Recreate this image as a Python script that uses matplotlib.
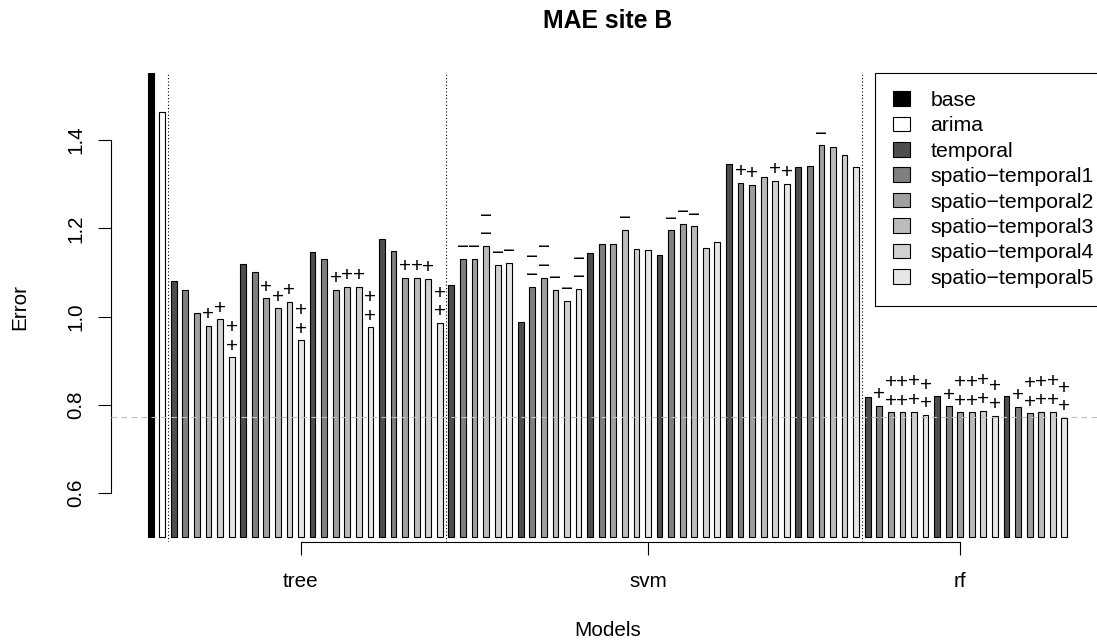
import matplotlib
matplotlib.use('Agg')
import matplotlib.pyplot as plt
from matplotlib.patches import Patch

plt.rcParams['font.family'] = ['Liberation Sans', 'DejaVu Sans']

MINUS = '\u2212'

# ---------------------------------------------------------------------------
# Données
# ---------------------------------------------------------------------------

series = ['base', 'arima', 'temporal',
          'spatio' + MINUS + 'temporal1', 'spatio' + MINUS + 'temporal2',
          'spatio' + MINUS + 'temporal3', 'spatio' + MINUS + 'temporal4',
          'spatio' + MINUS + 'temporal5']
colours = ['#000000', '#FFFFFF', '#4D4D4D', '#7F7F7F',
           '#A0A0A0', '#BBBBBB', '#D1D1D1', '#E6E6E6']

models = ['tree', 'svm', 'rf']

base_err = 1.60
arima_err = 1.464
ref_line = 0.772

tree_err = [
    [1.081, 1.061, 1.009, 0.979, 0.994, 0.908],
    [1.120, 1.101, 1.041, 1.019, 1.034, 0.946],
    [1.146, 1.131, 1.061, 1.067, 1.067, 0.976],
    [1.176, 1.148, 1.088, 1.088, 1.085, 0.986],
]
svm_err = [
    [1.071, 1.130, 1.131, 1.160, 1.117, 1.121],
    [0.988, 1.067, 1.088, 1.060, 1.035, 1.063],
    [1.143, 1.164, 1.164, 1.197, 1.152, 1.150],
    [1.140, 1.195, 1.210, 1.204, 1.155, 1.170],
    [1.345, 1.303, 1.299, 1.315, 1.307, 1.300],
    [1.338, 1.340, 1.388, 1.384, 1.365, 1.339],
]
rf_err = [
    [0.818, 0.798, 0.783, 0.783, 0.785, 0.777],
    [0.820, 0.797, 0.783, 0.783, 0.787, 0.775],
    [0.820, 0.795, 0.781, 0.784, 0.785, 0.771],
]

# marques de significativité ('+' meilleur, '-' moins bon)
tree_sig = [
    ['', '', '', '+', '+', '++'],
    ['', '', '+', '+', '+', '++'],
    ['', '', '+', '+', '+', '++'],
    ['', '', '+', '+', '+', '++'],
]
svm_sig = [
    ['', '-', '-', '--', '-', '-'],
    ['', '--', '--', '-', '-', '--'],
    ['', '', '', '-', '', ''],
    ['', '-', '-', '-', '', ''],
    ['', '+', '+', '', '+', '+'],
    ['', '', '-', '', '', ''],
]
rf_sig = [
    ['', '+', '++', '++', '++', '++'],
    ['', '+', '++', '++', '++', '++'],
    ['', '+', '++', '++', '++', '++'],
]

# ---------------------------------------------------------------------------
# Figure
# ---------------------------------------------------------------------------

W, H = 1097, 642
fig = plt.figure(figsize=(W / 100, H / 100), dpi=100)
ax = fig.add_axes([111 / W, (H - 541.7) / H, 993 / W, 468.7 / H])

FS = 14.9
BOTTOM = 0.5
WIDTH = 0.5

heights, fills, marks = [base_err, arima_err], colours[:2], ['', '']
group_ranges = []
for groups, sigs in [(tree_err, tree_sig), (svm_err, svm_sig), (rf_err, rf_sig)]:
    start = len(heights)
    for vals, sg in zip(groups, sigs):
        heights += vals
        fills += colours[2:]
        marks += sg
    group_ranges.append((start, len(heights) - 1))

xs = list(range(len(heights)))
ax.bar(xs, [h - BOTTOM for h in heights], bottom=BOTTOM, width=WIDTH,
       color=fills, edgecolor='black', linewidth=0.8, zorder=2)

# symboles empilés au-dessus des barres
for x, h, m in zip(xs, heights, marks):
    if not m:
        continue
    label = '\n'.join('+' if ch == '+' else MINUS for ch in m)
    ax.annotate(label, xy=(x, h), xytext=(0, 1.7),
                textcoords='offset pixels', ha='center', va='bottom',
                fontsize=FS, linespacing=0.97, color='black',
                annotation_clip=False)

# séparateurs entre modèles
for a, b in group_ranges:
    ax.axvline(a - 0.5, color='black', linestyle=(0, (1, 2)), linewidth=0.8,
               zorder=1)
ax.axhline(ref_line, color='#BEBEBE', linestyle=(0, (5, 4)), linewidth=0.8,
           zorder=3)

ax.set_xlim(-3.43, 82.43)
ax.set_ylim(0.4904, 1.5515)

for s in ['top', 'right']:
    ax.spines[s].set_visible(False)
ax.spines['left'].set_bounds(0.6, 1.4)
tick_pos = [(a + b) / 2 - 0.5 for a, b in group_ranges]
ax.spines['bottom'].set_bounds(tick_pos[0], tick_pos[-1])
for s in ['left', 'bottom']:
    ax.spines[s].set_linewidth(0.8)

ax.set_yticks([0.6, 0.8, 1.0, 1.2, 1.4])
ax.set_yticklabels(['0.6', '0.8', '1.0', '1.2', '1.4'])
ax.set_xticks(tick_pos)
ax.set_xticklabels(models)
ax.tick_params(axis='both', direction='out', length=9.5, width=0.8,
               labelsize=FS)
ax.tick_params(axis='x', pad=12)
ax.tick_params(axis='y', pad=9, labelrotation=90)
for lab in ax.get_yticklabels():
    lab.set_va('center')

ax.set_xlabel('Models', fontsize=FS)
ax.xaxis.set_label_coords(0.5, (541.7 - 630) / 468.7)
ax.xaxis.label.set_va('center')
ax.set_ylabel('Error', fontsize=FS)
ax.yaxis.set_label_coords((20 - 111) / 993, 0.5)
ax.yaxis.label.set_va('center')

fig.text(608 / W, 1 - 21 / H, 'MAE site B', ha='center', va='center',
         fontsize=17.8, fontweight='bold')

# légende : le bord droit sort de l'image, comme dans l'original
handles = [Patch(facecolor=c, edgecolor='black', linewidth=0.8, label=l)
           for c, l in zip(colours, series)]
leg = ax.legend(handles=handles, loc='upper right',
                bbox_to_anchor=(1 + 8 / 993, 1),
                borderaxespad=0, fancybox=False, edgecolor='black',
                framealpha=1, fontsize=15.3, handlelength=0.8,
                handleheight=0.68, handletextpad=0.95, labelspacing=0.3,
                borderpad=0.85)
leg.get_frame().set_linewidth(0.8)

fig.savefig('out.png', dpi=100)
